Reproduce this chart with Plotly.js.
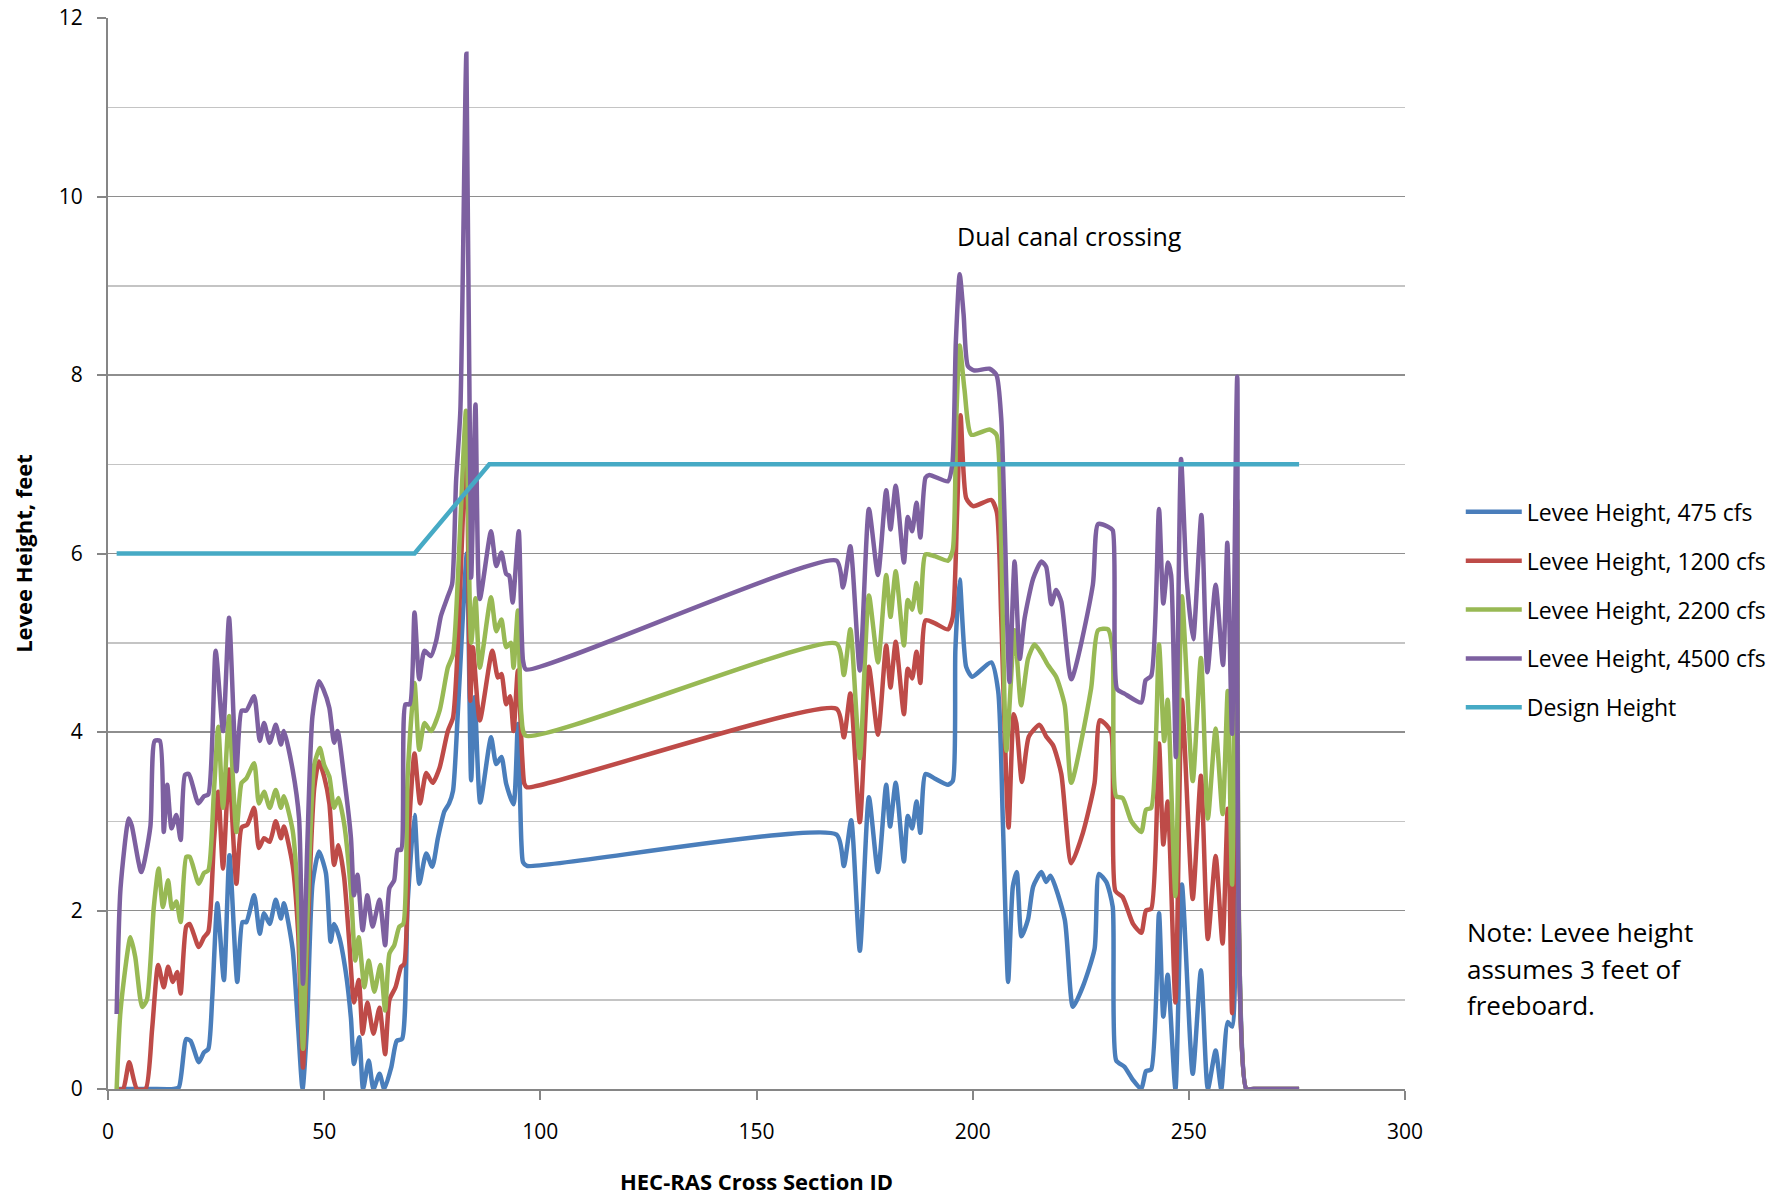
<!DOCTYPE html>
<html>
<head>
<meta charset="utf-8">
<script src="https://cdn.plot.ly/plotly-3.0.1.min.js"></script>
<style>html,body{margin:0;padding:0;background:#fff;}#chart{width:1791px;height:1197px;}</style>
</head>
<body>
<div id="chart"></div>
<script>
// [cross section ID, levee height in feet]
const levee475 = [[2,0],[5,0],[10,0],[15.2,0],[16.4,0.02],[18.1,0.56],[19.1,0.54],[21,0.3],[22.2,0.41],[23.2,0.45],[24.1,1.01],[25.3,2.08],[26.8,1.22],[28.1,2.62],[29.9,1.2],[31.1,1.87],[32,1.87],[33.8,2.17],[35.1,1.74],[36.1,1.97],[37.4,1.85],[38.8,2.12],[40,1.91],[40.7,2.08],[42.7,1.57],[44,0.67],[45,0],[46,0.67],[47.3,2.3],[48.8,2.66],[50.4,2.42],[51.5,1.65],[52.3,1.85],[53.5,1.7],[55,1.31],[56.2,0.79],[56.9,0.28],[58.1,0.58],[59,0],[60.3,0.32],[61.4,0],[62.8,0.17],[63.9,0],[65.5,0.24],[66.8,0.54],[68,0.56],[69.3,2.08],[70.9,3.07],[72,2.3],[73.6,2.64],[75,2.49],[76.3,2.81],[77.8,3.11],[78.9,3.2],[79.8,3.34],[80.9,4.2],[82.1,5.32],[83,6.0],[84,3.46],[84.8,4.39],[86.1,3.21],[88.6,3.94],[89.8,3.64],[91,3.72],[92.1,3.42],[93.8,3.19],[94.8,4.09],[95.6,2.78],[96,2.54],[96.9,2.5],[168.5,2.85],[170.2,2.5],[171.9,3.01],[173.9,1.55],[176,3.27],[178.1,2.43],[180,3.41],[180.9,2.94],[182.2,3.43],[184.1,2.55],[185,3.06],[186,2.92],[187,3.22],[187.9,2.87],[189.1,3.53],[191.2,3.48],[194.3,3.41],[195.4,3.45],[196,4.92],[197,5.71],[198.5,4.73],[199.9,4.62],[204.3,4.78],[205.9,4.46],[207,2.97],[208.2,1.2],[209.3,2.27],[210.2,2.43],[211.3,1.71],[212.8,1.9],[214,2.27],[215.9,2.43],[217,2.32],[218,2.39],[221.3,1.9],[223.2,0.92],[225.5,1.15],[228.2,1.57],[229.2,2.41],[230.9,2.32],[232.4,2.04],[233.2,0.32],[235.1,0.25],[237.1,0.1],[239,0],[240.1,0.2],[241.3,0.22],[243.1,1.97],[244.1,0.81],[245.1,1.28],[246.9,0],[248.4,2.29],[250.9,0.17],[252.8,1.33],[254.4,0],[256.2,0.43],[257.5,0],[259,0.75],[260,0.7],[261.2,2.61],[263.3,0],[265,0],[275.5,0]];

const levee1200 = [[2,0],[3.5,0],[4.9,0.3],[6.7,0],[8.7,0],[10.2,0.67],[11.6,1.39],[12.9,1.14],[13.9,1.37],[15,1.2],[16,1.31],[16.8,1.07],[18.1,1.82],[18.9,1.85],[21,1.59],[22.2,1.7],[23.2,1.76],[24.5,2.77],[25.5,3.33],[26.6,2.47],[28,3.58],[29.7,2.3],[30.9,2.93],[32.2,2.96],[33.8,3.15],[34.9,2.7],[36.1,2.81],[37.4,2.77],[38.8,3.0],[40,2.81],[40.7,2.94],[42.7,2.51],[44,1.74],[45.1,0.24],[46.1,1.65],[47.7,3.37],[48.8,3.67],[50,3.5],[51.2,3.2],[52.3,2.51],[53.3,2.73],[54.6,2.38],[55.8,1.65],[56.9,0.97],[58,1.22],[58.9,0.62],[60,0.97],[61.4,0.62],[62.8,0.91],[64.1,0.39],[65.1,1.0],[66.5,1.14],[67.8,1.37],[68.5,1.4],[69.7,3.0],[70.9,3.76],[72.2,3.2],[73.6,3.54],[75.1,3.43],[76.7,3.6],[78.6,4.01],[79.8,4.16],[80.9,4.95],[82.1,6.44],[82.9,7.3],[83.8,4.35],[84.4,4.95],[86,4.13],[88.9,4.91],[90.2,4.61],[91,4.65],[92.1,4.31],[93,4.4],[93.8,4.01],[94.8,4.69],[95.8,3.72],[96.3,3.42],[96.9,3.38],[168.5,4.26],[170.2,3.94],[171.7,4.43],[173.9,2.99],[176,4.73],[178.1,3.97],[180,4.97],[181,4.5],[182.2,5.01],[184.1,4.2],[185,4.71],[186,4.6],[187,4.9],[187.9,4.55],[189.1,5.25],[191.2,5.22],[194.3,5.15],[195.4,5.29],[196.4,6.46],[197.2,7.55],[198.5,6.62],[200.1,6.53],[204.3,6.6],[205.6,6.46],[206.6,5.29],[208.3,2.93],[209.5,4.2],[210.1,4.1],[211.4,3.44],[213,3.95],[215.5,4.08],[217,3.95],[218.6,3.85],[220.5,3.53],[222.8,2.53],[225.5,2.87],[228.2,3.43],[229.4,4.13],[230.9,4.08],[232.1,3.99],[233,2.22],[234.7,2.15],[237.1,1.85],[239,1.75],[240.1,2.0],[241.3,2.02],[243.1,3.87],[244.1,2.74],[245.1,3.22],[246.9,0.97],[248.4,4.36],[250.9,2.13],[252.8,3.51],[254.4,1.68],[256.2,2.61],[257.8,1.63],[259,3.14],[260,0.85],[260.9,4.4],[263.3,0],[265,0],[275.5,0]];

const levee2200 = [[2,0],[2.9,0.88],[5.2,1.7],[6.3,1.48],[7.9,0.92],[9,1.0],[10.6,2.04],[11.7,2.47],[12.7,2.04],[13.9,2.34],[14.8,2.02],[15.8,2.1],[16.8,1.87],[18.1,2.6],[18.9,2.6],[21,2.3],[22.2,2.42],[23.2,2.45],[24.5,3.33],[25.5,4.06],[26.6,3.15],[28,4.18],[29.7,2.88],[30.9,3.43],[32,3.48],[33.8,3.65],[34.9,3.2],[36.1,3.33],[37.4,3.15],[38.8,3.35],[40,3.15],[40.7,3.28],[42.7,2.9],[44,2.08],[45.1,0.45],[46.1,1.87],[47.7,3.63],[49,3.82],[50,3.63],[51.2,3.5],[52.3,3.15],[53.3,3.26],[54.6,2.98],[56.2,2.21],[57.2,1.44],[58,1.7],[59.3,1.14],[60.3,1.44],[61.6,1.09],[63,1.39],[64.1,0.88],[65.1,1.52],[66.2,1.61],[67.4,1.82],[68.3,1.85],[69.3,3.5],[70.9,4.55],[72,3.8],[73.2,4.1],[74.7,4.01],[76.7,4.24],[78.6,4.72],[79.8,4.87],[80.9,5.69],[82.1,7.0],[82.8,7.6],[84,5.0],[85,5.5],[86,4.72],[88.6,5.51],[89.8,5.13],[91,5.26],[92.1,4.95],[93.2,5.0],[93.8,4.72],[94.8,5.36],[95.6,4.2],[96.6,3.96],[168.5,4.99],[170.2,4.64],[171.7,5.15],[173.9,3.71],[176,5.53],[178.1,4.78],[180,5.76],[181,5.29],[182.2,5.8],[184.1,4.97],[185,5.48],[186,5.37],[187,5.67],[187.9,5.34],[189.1,5.99],[191.2,5.97],[194.3,5.92],[195.4,6.04],[196.2,7.5],[197,8.33],[198.1,7.84],[199.7,7.33],[203.9,7.39],[205.5,7.33],[206.6,6.1],[207.8,3.79],[209.7,5.14],[211.2,4.3],[212.8,4.82],[214.3,4.98],[215.9,4.88],[217.4,4.75],[219.3,4.62],[221.3,4.3],[222.8,3.43],[227.4,4.49],[229,5.14],[231.3,5.15],[232.4,4.91],[233.2,3.28],[234.7,3.26],[236.7,3.0],[239,2.88],[240.1,3.13],[241.3,3.15],[243.1,4.98],[244.3,3.9],[245.1,4.36],[246.9,2.16],[248.4,5.52],[250.9,3.45],[252.8,4.83],[254.4,3.03],[256.2,4.04],[257.8,3.08],[259,4.46],[260,2.29],[261.2,6.6],[263.3,0],[265,0],[275.5,0]];

const levee4500 = [[2,0.84],[2.9,2.25],[4.8,3.03],[5.5,2.95],[7.7,2.43],[9.8,2.94],[10.8,3.9],[12,3.9],[12.9,2.88],[13.7,3.41],[14.7,2.92],[15.8,3.07],[16.8,2.79],[17.8,3.52],[18.7,3.53],[20.9,3.2],[22.2,3.28],[23.2,3.3],[24.9,4.91],[26.6,4.01],[28,5.28],[29.7,3.56],[30.9,4.24],[32,4.24],[33.8,4.4],[35.1,3.9],[36.1,4.1],[37.4,3.88],[38.8,4.08],[40,3.86],[40.7,4.01],[42.7,3.58],[44.2,3.03],[45.1,1.18],[46.1,2.73],[47.3,4.18],[48.8,4.57],[49.8,4.48],[51.2,4.27],[52.3,3.88],[53.1,4.01],[54.6,3.5],[56.2,2.81],[56.9,2.17],[57.7,2.4],[58.9,1.78],[60,2.17],[61.2,1.82],[62.8,2.12],[64.1,1.61],[65.1,2.25],[66.2,2.34],[67,2.68],[67.8,2.68],[68.8,4.31],[69.8,4.31],[70.9,5.34],[72,4.59],[73.2,4.91],[74.7,4.85],[75.9,5.02],[77,5.3],[78.6,5.52],[79.6,5.66],[80.5,6.8],[81.5,7.6],[82.9,11.6],[84,5.73],[85,7.67],[86,5.49],[88.6,6.25],[89.8,5.86],[91,6.01],[92.1,5.77],[92.8,5.75],[93.6,5.45],[95,6.25],[96,4.8],[96.7,4.7],[168.5,5.92],[170,5.62],[171.7,6.08],[173.9,4.69],[176,6.5],[178.1,5.76],[180,6.71],[181,6.27],[182.2,6.76],[184.1,5.9],[185,6.41],[186,6.25],[187,6.57],[187.9,6.18],[189.1,6.85],[190,6.88],[194.3,6.81],[195.3,7.0],[196.1,8.36],[197,9.13],[197.9,8.68],[198.9,8.1],[200.4,8.05],[203.9,8.07],[205.5,8.0],[206.6,7.52],[207.4,6.36],[208.5,4.56],[209.7,5.91],[210.9,4.82],[212,5.27],[214,5.72],[215.9,5.91],[217,5.85],[218.2,5.43],[219.3,5.59],[220.5,5.46],[222.8,4.59],[227.8,5.65],[229,6.33],[231.3,6.3],[232.4,6.26],[233.4,4.48],[235.1,4.43],[239,4.33],[240,4.58],[241.3,4.63],[243.1,6.5],[244.1,5.44],[245.2,5.9],[245.9,5.76],[247,3.72],[248.2,7.06],[249.5,5.71],[251,5.04],[252.9,6.43],[254.3,4.67],[256.2,5.65],[257.9,4.75],[258.9,6.12],[260,3.98],[261.2,7.98],[263.3,0],[265,0],[275.5,0]];

const designHeight = [[2,6],[70.9,6],[88.2,7],[275.5,7]];

const seriesNames = ["Levee Height, 475 cfs","Levee Height, 1200 cfs","Levee Height, 2200 cfs","Levee Height, 4500 cfs","Design Height"];
const seriesData = [levee475, levee1200, levee2200, levee4500, designHeight];
const seriesColors = ["#4A7EBB","#BE4B48","#98B954","#7D60A0","#46AAC5"];
const noteLines = ["Note: Levee height", "assumes 3 feet of", "freeboard."];

const traces = seriesData.map((d, i) => ({
  type: "scatter",
  mode: "lines",
  name: seriesNames[i],
  legendgroup: "g" + i,
  x: d.map(p => p[0]),
  y: d.map(p => p[1]),
  cliponaxis: false,
  line: {color: seriesColors[i], width: 4.5, shape: i === 4 ? "linear" : "spline", smoothing: 0.6},
  hoverinfo: "x+y+name"
}));

const font = "'Open Sans', 'Liberation Sans', sans-serif";

const noteAnnotations = noteLines.map((t, i) => ({
  x: 1.046, y: 0.1463 - i * 0.0341, xref: "paper", yref: "paper", text: t,
  showarrow: false, xanchor: "left", yanchor: "middle", align: "left",
  font: {family: font, size: 26, color: "#000"}
}));

const layout = {
  width: 1791,
  height: 1197,
  paper_bgcolor: "#ffffff",
  plot_bgcolor: "#ffffff",
  margin: {l: 108, r: 386, t: 18, b: 108},
  font: {family: font, color: "#000000", size: 20},
  showlegend: true,
  legend: {
    x: 1.043, xanchor: "left", y: 0.559, yanchor: "top",
    font: {family: font, size: 23, color: "#000"},
    traceorder: "grouped", tracegroupgap: 16,
    itemwidth: 56, bgcolor: "rgba(0,0,0,0)"
  },
  xaxis: {
    range: [0, 300], dtick: 50, tick0: 0,
    showgrid: false, zeroline: false, layer: "below traces",
    showline: true, linecolor: "#868686", linewidth: 2,
    ticks: "outside", ticklen: 9, tickwidth: 2, tickcolor: "#868686",
    tickfont: {family: font, size: 21, color: "#000"},
    ticklabelstandoff: 14,
    title: {text: "<b>HEC-RAS Cross Section ID</b>", font: {family: font, size: 22, color: "#000"}, standoff: 30}
  },
  yaxis: {
    range: [0, 12], dtick: 2, tick0: 0,
    showgrid: true, gridcolor: "#8e8e8e", gridwidth: 1.5,
    zeroline: false, layer: "below traces",
    showline: true, linecolor: "#868686", linewidth: 2,
    ticks: "outside", ticklen: 9, tickwidth: 2, tickcolor: "#868686",
    tickfont: {family: font, size: 21, color: "#000"},
    ticklabelstandoff: 10,
    minor: {dtick: 1, showgrid: true, gridcolor: "#c4c4c4", gridwidth: 1.5, ticks: ""},
    title: {text: "<b>Levee Height, feet</b>", font: {family: font, size: 22, color: "#000"}, standoff: 20}
  },
  annotations: [
    {x: 196, y: 9.56, xref: "x", yref: "y", text: "Dual canal crossing", showarrow: false,
     xanchor: "left", yanchor: "middle", font: {family: font, size: 25, color: "#000"}}
  ].concat(noteAnnotations)
};

Plotly.newPlot("chart", traces, layout, {displayModeBar: false, staticPlot: true});
</script>
</body>
</html>
